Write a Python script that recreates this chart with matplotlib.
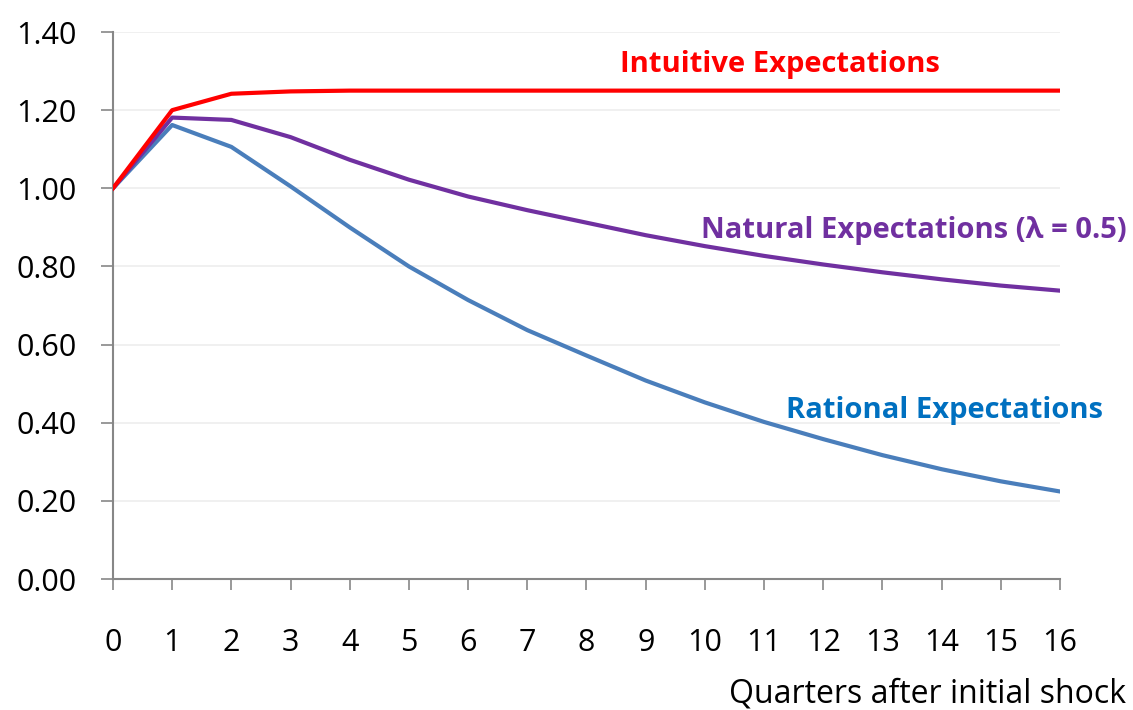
import matplotlib.pyplot as plt
import numpy as np

# data
quarters = list(range(0, 17))
intuitive = [1.00, 1.20, 1.242, 1.248, 1.25, 1.25, 1.25, 1.25, 1.25,
             1.25, 1.25, 1.25, 1.25, 1.25, 1.25, 1.25, 1.25]
natural = [1.00, 1.181, 1.175, 1.131, 1.073, 1.022, 0.979, 0.944, 0.912,
           0.880, 0.852, 0.827, 0.805, 0.785, 0.767, 0.751, 0.738]
rational = [1.00, 1.162, 1.106, 1.005, 0.900, 0.800, 0.714, 0.637, 0.572,
            0.508, 0.452, 0.402, 0.358, 0.317, 0.281, 0.250, 0.224]
yticks = [0.0, 0.2, 0.4, 0.6, 0.8, 1.0, 1.2, 1.4]

plt.rcParams['font.family'] = ['Open Sans', 'DejaVu Sans']

fig = plt.figure(figsize=(11.33, 7.10), dpi=100)
ax = fig.add_axes([0.0997, 0.1845, 0.8359, 0.7704])

red, purple, blue = '#FF0000', '#7030A0', '#4A7EBB'
ax.plot(quarters, rational, color=blue, lw=3, solid_joinstyle='round', zorder=3)
ax.plot(quarters, natural, color=purple, lw=3, solid_joinstyle='round', zorder=4)
ax.plot(quarters, intuitive, color=red, lw=3, solid_joinstyle='round', zorder=5)

ax.set_xlim(0, 16)
ax.set_ylim(0, 1.4)
ax.set_xticks(quarters)
ax.set_yticks(yticks)
ax.set_yticklabels(['%.2f' % v for v in yticks])

ax.grid(axis='y', color='#EDEDED', lw=1.2, zorder=0)
for s in ('top', 'right'):
    ax.spines[s].set_visible(False)
for s in ('left', 'bottom'):
    ax.spines[s].set_color('#878787')
    ax.spines[s].set_linewidth(1.5)

ax.tick_params(axis='y', length=9, width=1.2, color='#878787', pad=17, labelsize=22)
ax.tick_params(axis='x', length=8, width=1.2, color='#878787', pad=27, labelsize=22)

# series labels
ax.text(11.26, 1.317, 'Intuitive Expectations', color=red, fontsize=21,
        fontweight='bold', ha='center', va='center')
ax.text(13.53, 0.892, 'Natural Expectations (\u03bb = 0.5)', color=purple, fontsize=21,
        fontweight='bold', ha='center', va='center')
ax.text(14.04, 0.431, 'Rational Expectations', color='#0070C0', fontsize=21,
        fontweight='bold', ha='center', va='center')

fig.text(1126 / 1133, 1 - 694 / 710, 'Quarters after initial shock', fontsize=23,
         ha='right', va='center')

fig.savefig('out.png', dpi=100)
